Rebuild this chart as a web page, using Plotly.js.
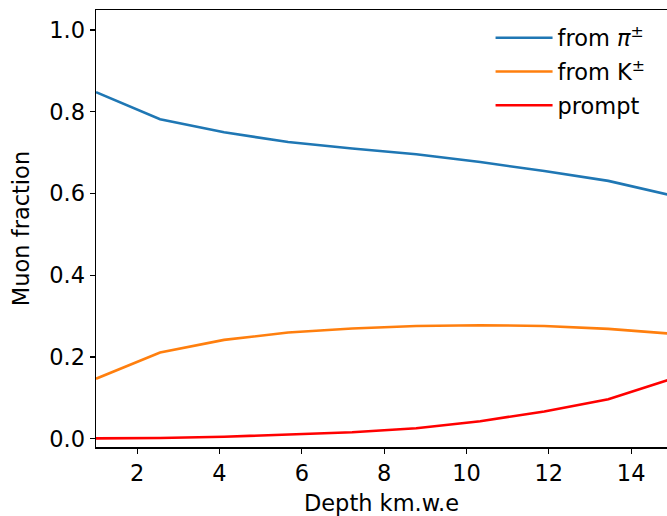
<!DOCTYPE html>
<html>
<head>
<meta charset="utf-8">
<script src="https://cdn.plot.ly/plotly-3.0.1.min.js"></script>
<style>html,body{margin:0;padding:0;background:#fff}#chart{width:667px;height:516px}</style>
</head>
<body>
<div id="chart"></div>
<script>
const depth = [1.0, 2.556, 4.111, 5.667, 7.222, 8.778, 10.333, 11.889, 13.444, 15.0];
const fromPi = [0.848, 0.782, 0.750, 0.726, 0.710, 0.696, 0.677, 0.655, 0.631, 0.595];
const fromK = [0.147, 0.211, 0.242, 0.260, 0.270, 0.276, 0.278, 0.276, 0.269, 0.257];
const prompt = [0.001, 0.002, 0.005, 0.010, 0.016, 0.026, 0.043, 0.067, 0.097, 0.147];
const seriesNames = ['from <i>π</i><sup>±</sup>', 'from K<sup>±</sup>', 'prompt'];
const seriesColors = ['#1f77b4', '#ff7f0e', '#ff0000'];
const xTicks = [2, 4, 6, 8, 10, 12, 14];
const yTicks = [0.0, 0.2, 0.4, 0.6, 0.8, 1.0];

const FS = 22.5;
const mk = () => ({family: 'DejaVu Sans', size: FS, color: '#000'});
const ys = [fromPi, fromK, prompt];
const traces = ys.map((y, i) => ({
  x: depth, y: y, type: 'scatter', mode: 'lines', name: seriesNames[i],
  legendgroup: 'g' + i,
  line: {color: seriesColors[i], width: 2.6}
}));

const layout = {
  width: 667, height: 516,
  margin: {l: 96, r: 0, t: 10, b: 69},
  paper_bgcolor: '#fff', plot_bgcolor: '#fff',
  font: mk(),
  showlegend: true,
  legend: {x: 0.691, y: 0.985, xanchor: 'left', yanchor: 'top', bgcolor: 'rgba(0,0,0,0)',
           font: mk(), itemwidth: 57,
           traceorder: 'grouped', tracegroupgap: 1.5},
  xaxis: {
    range: [1, 14.87], tickvals: xTicks, ticktext: xTicks.map(String),
    showgrid: false, zeroline: false, showline: true, linecolor: '#000', linewidth: 1.5,
    mirror: true, ticks: 'outside', ticklen: 5, tickwidth: 1.3, tickcolor: '#000',
    tickfont: mk(),
    title: {text: 'Depth km.w.e', font: mk(), standoff: 10}
  },
  yaxis: {
    range: [-0.02, 1.049], tickvals: yTicks, ticktext: yTicks.map(v => v.toFixed(1)),
    showgrid: false, zeroline: false, showline: true, linecolor: '#000', linewidth: 1.5,
    mirror: false, ticks: 'outside', ticklen: 5, tickwidth: 1.3, tickcolor: '#000',
    tickfont: mk(),
    title: {text: 'Muon fraction', font: mk(), standoff: 13}
  }
};
Plotly.newPlot('chart', traces, layout, {displayModeBar: false, staticPlot: true});
</script>
</body>
</html>
